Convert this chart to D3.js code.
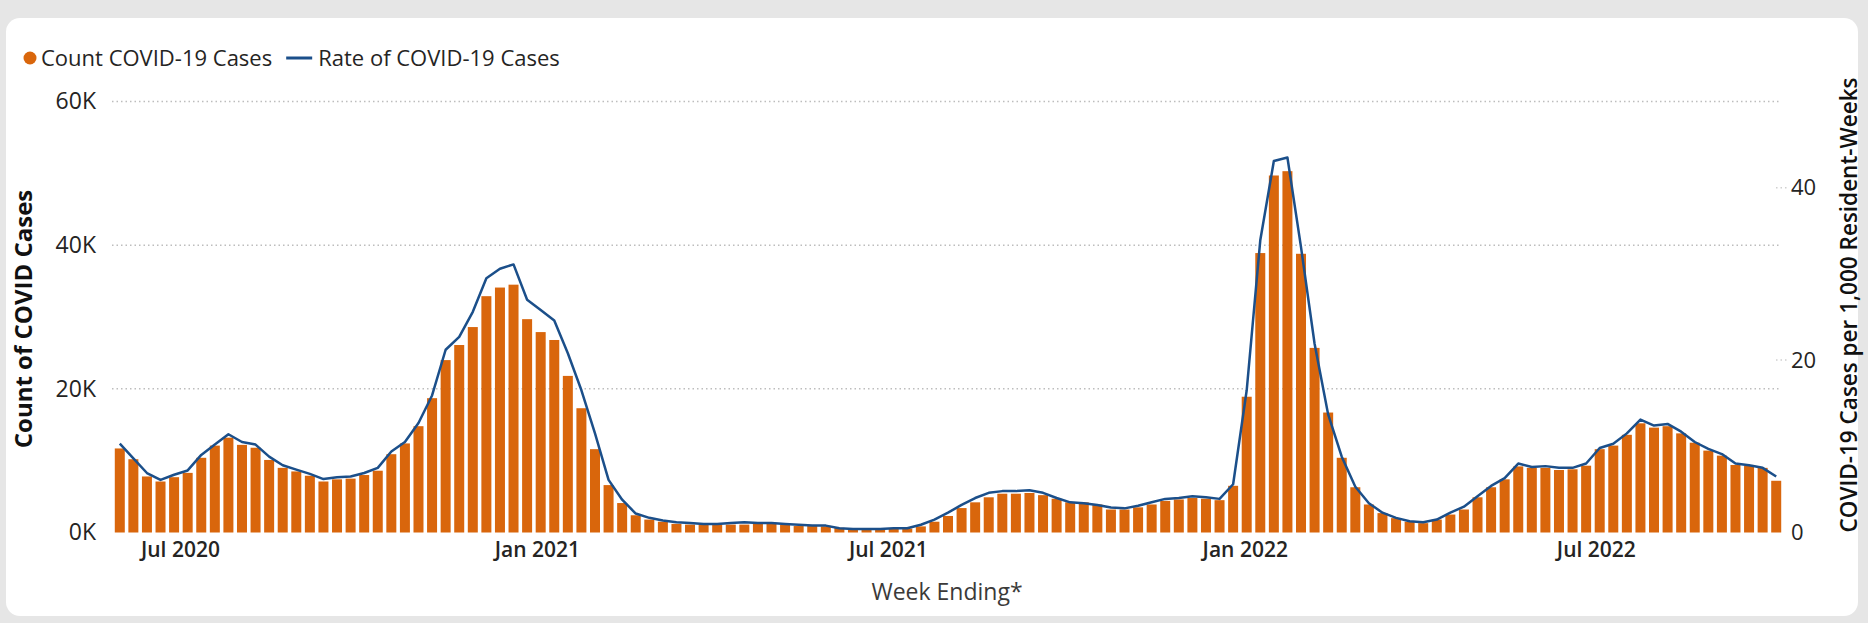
<!DOCTYPE html>
<html>
<head>
<meta charset="utf-8">
<script src="https://cdn.jsdelivr.net/npm/d3@7"></script>
<style>
  html, body { margin: 0; padding: 0; background: #e6e6e6; }
  svg { display: block; font-family: "Segoe UI", "Open Sans", sans-serif; }
</style>
</head>
<body>
<svg id="chart"></svg>
<script>
// weekly data, week ending dates start here
const firstWeek = '2020-05-31';

const countCases = [
  11700, 10200, 7800, 7100, 7700, 8300, 10400, 12100, 13200, 12200,
  11800, 10100, 9000, 8500, 7900, 7100, 7400, 7500, 8000, 8600,
  10900, 12400, 14800, 18700, 24000, 26100, 28600, 32900, 34100, 34500,
  29700, 27900, 26800, 21800, 17300, 11600, 6600, 4100, 2400, 1800,
  1500, 1200, 1100, 1100, 1100, 1100, 1100, 1200, 1200, 1100,
  900, 900, 850, 650, 550, 450, 450, 550, 550, 850,
  1500, 2300, 3400, 4200, 4900, 5400, 5400, 5500, 5200, 4700,
  4200, 4200, 3900, 3200, 3200, 3500, 3900, 4400, 4600, 4800,
  4700, 4500, 6500, 18900, 38900, 49700, 50300, 38800, 25700, 16700,
  10400, 6300, 3900, 2700, 2000, 1500, 1300, 1800, 2500, 3200,
  4900, 6300, 7400, 9200, 9000, 9000, 8700, 8800, 9300, 11600,
  12100, 13600, 15200, 14600, 14800, 13800, 12500, 11400, 10700, 9400,
  9300, 9000, 7200
];

const rateCases = [
  10.3, 8.6, 6.9, 6.1, 6.7, 7.2, 9.0, 10.2, 11.4, 10.5,
  10.2, 8.8, 7.8, 7.3, 6.8, 6.2, 6.4, 6.5, 6.9, 7.5,
  9.4, 10.5, 12.7, 15.9, 21.2, 22.7, 25.6, 29.5, 30.6, 31.1,
  27.0, 25.8, 24.6, 20.8, 16.5, 11.5, 6.1, 3.8, 2.2, 1.7,
  1.4, 1.2, 1.1, 1.0, 1.0, 1.1, 1.2, 1.1, 1.1, 1.0,
  0.9, 0.8, 0.8, 0.5, 0.4, 0.4, 0.4, 0.5, 0.5, 0.9,
  1.5, 2.3, 3.2, 4.0, 4.6, 4.8, 4.8, 4.9, 4.6, 4.0,
  3.5, 3.4, 3.2, 2.9, 2.8, 3.1, 3.5, 3.9, 4.0, 4.2,
  4.1, 3.9, 5.6, 16.5, 33.9, 43.1, 43.5, 33.1, 21.9, 13.7,
  8.8, 5.3, 3.4, 2.3, 1.7, 1.3, 1.2, 1.5, 2.3, 3.0,
  4.2, 5.4, 6.3, 8.0, 7.6, 7.7, 7.5, 7.5, 8.0, 9.8,
  10.3, 11.5, 13.1, 12.4, 12.6, 11.7, 10.5, 9.7, 9.1, 8.0,
  7.8, 7.5, 6.5
];

const countTicks = [0, 20000, 40000, 60000];
const rateTicks = [0, 20, 40];
const monthTicks = ['2020-07-01', '2021-01-01', '2021-07-01', '2022-01-01', '2022-07-01'];

const legendLabels = ['Count COVID-19 Cases', 'Rate of COVID-19 Cases'];
const xTitle = 'Week Ending*';
const yLeftTitle = 'Count of COVID Cases';
const yRightTitle = 'COVID-19 Cases per 1,000 Resident-Weeks';

const W = 1868, H = 623;
const plot = { left: 113, right: 1783, top: 101.5, bottom: 532.5 };
const orange = '#d9660c';
const blue = '#1b4f8a';
const textColor = '#252423';

const parse = d3.utcParse('%Y-%m-%d');
const week0 = parse(firstWeek);
const weeks = countCases.map((_, i) => d3.utcDay.offset(week0, 7 * i));
const data = weeks.map((d, i) => ({ date: d, count: countCases[i], rate: rateCases[i] }));

const svg = d3.select('#chart').attr('width', W).attr('height', H);

// card
svg.append('rect')
  .attr('x', 6).attr('y', 18)
  .attr('width', 1852).attr('height', 598)
  .attr('rx', 14)
  .attr('fill', '#ffffff');

const x = d3.scaleUtc()
  .domain([d3.utcHour.offset(weeks[0], -84), d3.utcHour.offset(weeks[weeks.length - 1], 84)])
  .range([plot.left, plot.right]);

const yCount = d3.scaleLinear().domain([0, 60000]).range([plot.bottom, plot.top]);
const yRate = d3.scaleLinear().domain([0, 50]).range([plot.bottom, plot.top]);

// gridlines
svg.append('g')
  .selectAll('line')
  .data(countTicks.filter(d => d > 0))
  .enter()
  .append('line')
  .attr('x1', plot.left - 1).attr('x2', plot.right - 3)
  .attr('y1', d => yCount(d)).attr('y2', d => yCount(d))
  .attr('stroke', '#bdbdbd')
  .attr('stroke-width', 1.5)
  .attr('stroke-dasharray', '1.5,3');

svg.append('g')
  .selectAll('line')
  .data(rateTicks.filter(d => d > 0))
  .enter()
  .append('line')
  .attr('x1', plot.right - 7).attr('x2', plot.right + 4)
  .attr('y1', d => yRate(d)).attr('y2', d => yRate(d))
  .attr('stroke', '#d0d0d0')
  .attr('stroke-width', 1.5)
  .attr('stroke-dasharray', '1.5,3');

// bars
const barW = 10;
svg.append('g')
  .selectAll('rect')
  .data(data)
  .enter()
  .append('rect')
  .attr('x', d => x(d.date) - barW / 2)
  .attr('width', barW)
  .attr('y', d => yCount(d.count))
  .attr('height', d => yCount(0) - yCount(d.count))
  .attr('fill', orange);

// rate line
const line = d3.line()
  .x(d => x(d.date))
  .y(d => yRate(d.rate));

svg.append('path')
  .datum(data)
  .attr('fill', 'none')
  .attr('stroke', blue)
  .attr('stroke-width', 2.5)
  .attr('stroke-linejoin', 'round')
  .attr('d', line);

// axes
const xAxis = svg.append('g')
  .attr('transform', `translate(0,${plot.bottom})`)
  .call(d3.axisBottom(x)
    .tickValues(monthTicks.map(parse))
    .tickFormat(d3.utcFormat('%b %Y'))
    .tickSize(0)
    .tickPadding(10))
  .attr('font-family', null)
  .attr('font-size', 21);
xAxis.select('.domain').remove();
xAxis.selectAll('text')
  .attr('font-weight', 600)
  .attr('fill', textColor);

const yAxisL = svg.append('g')
  .attr('transform', `translate(96,0)`)
  .call(d3.axisLeft(yCount)
    .tickValues(countTicks)
    .tickFormat(d => (d / 1000) + 'K')
    .tickSize(0)
    .tickPadding(0))
  .attr('font-family', null)
  .attr('font-size', 23);
yAxisL.select('.domain').remove();
yAxisL.selectAll('text').attr('fill', textColor);

const yAxisR = svg.append('g')
  .attr('transform', `translate(1791,0)`)
  .call(d3.axisRight(yRate)
    .tickValues(rateTicks)
    .tickSize(0)
    .tickPadding(0))
  .attr('font-family', null)
  .attr('font-size', 22);
yAxisR.select('.domain').remove();
yAxisR.selectAll('text').attr('fill', textColor);

// axis titles
svg.append('text')
  .attr('x', 947).attr('y', 600)
  .attr('text-anchor', 'middle')
  .attr('font-size', 23)
  .attr('fill', '#3b3a39')
  .text(xTitle);

svg.append('text')
  .attr('transform', `translate(32,${(plot.top + plot.bottom) / 2 + 2}) rotate(-90)`)
  .attr('text-anchor', 'middle')
  .attr('font-size', 24)
  .attr('font-weight', 700)
  .attr('fill', '#111')
  .text(yLeftTitle);

svg.append('text')
  .attr('transform', `translate(1857,305) rotate(-90)`)
  .attr('text-anchor', 'middle')
  .attr('font-size', 22.5)
  .attr('font-weight', 600)
  .attr('fill', '#111')
  .text(yRightTitle);

// legend
const legend = svg.append('g').attr('transform', 'translate(30,58)');

legend.append('circle')
  .attr('cx', 0).attr('cy', 0)
  .attr('r', 6.5)
  .attr('fill', orange);

const label1 = legend.append('text')
  .attr('x', 11).attr('y', 0)
  .attr('dy', '0.35em')
  .attr('font-size', 22)
  .attr('fill', textColor)
  .text(legendLabels[0]);

const lx = 11 + label1.node().getComputedTextLength() + 14;
legend.append('line')
  .attr('x1', lx).attr('x2', lx + 26)
  .attr('y1', 0).attr('y2', 0)
  .attr('stroke', blue)
  .attr('stroke-width', 3);

legend.append('text')
  .attr('x', lx + 32).attr('y', 0)
  .attr('dy', '0.35em')
  .attr('font-size', 22)
  .attr('fill', textColor)
  .text(legendLabels[1]);
</script>
</body>
</html>
